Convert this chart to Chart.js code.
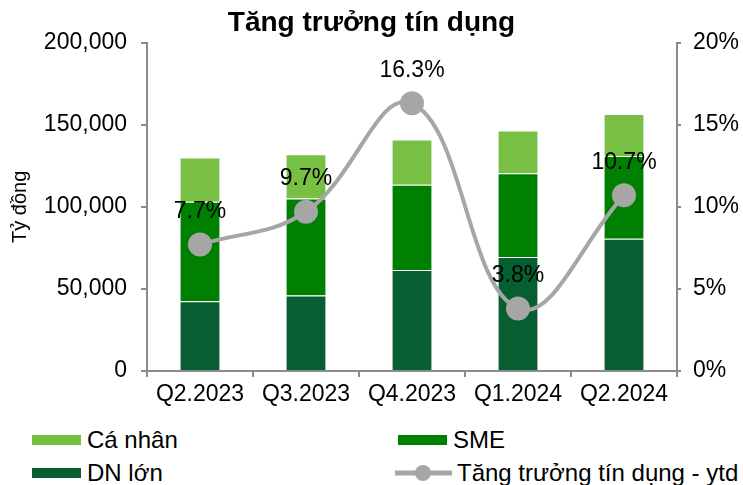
<!DOCTYPE html>
<html>
<head>
<meta charset="utf-8">
<script src="https://cdn.jsdelivr.net/npm/chart.js@4"></script>
<style>
  body { margin: 0; background: #fff; font-family: "Liberation Sans", Arial, sans-serif; }
  #wrap { position: relative; width: 743px; height: 485px; }
  #legend { position: absolute; left: 0; top: 420px; width: 743px; height: 65px; font-size: 24px; color: #000; }
  .item { position: absolute; display: flex; align-items: center; height: 28px; white-space: nowrap; }
  .box { width: 49px; height: 10px; margin-right: 6px; }
</style>
</head>
<body>
<div id="wrap">
  <canvas id="credit" width="743" height="420"></canvas>
  <div id="legend"></div>
</div>
<script>
const quarters = ["Q2.2023", "Q3.2023", "Q4.2023", "Q1.2024", "Q2.2024"];
const dnLon = [42500, 46000, 61500, 69500, 80500];
const sme = [60500, 59000, 52000, 51000, 50500];
const caNhan = [27000, 27000, 27500, 26000, 25500];
const growth = [7.7, 9.7, 16.3, 3.8, 10.7];

const axisGrey = "#8c8c8c";
const fontBase = { family: "'Liberation Sans', Arial, sans-serif", size: 23 };

// labels above the growth points
const pointLabels = {
    id: "pointLabels",
    afterDatasetsDraw(chart) {
        const ctx = chart.ctx;
        const meta = chart.getDatasetMeta(3);
        ctx.save();
        ctx.font = "23px 'Liberation Sans', Arial, sans-serif";
        ctx.fillStyle = "#000";
        ctx.textAlign = "center";
        ctx.textBaseline = "middle";
        meta.data.forEach((pt, i) => {
            ctx.fillText(growth[i].toFixed(1) + "%", pt.x, pt.y - 33);
        });
        ctx.restore();
    },
};

const data = {
    labels: quarters,
    datasets: [
        {
            type: "bar",
            label: "DN lớn",
            data: dnLon,
            backgroundColor: "#075e31",
            borderColor: "#ffffff",
            borderWidth: 1,
            yAxisID: "y",
            order: 1,
        },
        {
            type: "bar",
            label: "SME",
            data: sme,
            backgroundColor: "#008000",
            borderColor: "#ffffff",
            borderWidth: 1,
            yAxisID: "y",
            order: 1,
        },
        {
            type: "bar",
            label: "Cá nhân",
            data: caNhan,
            backgroundColor: "#77c043",
            borderColor: "#ffffff",
            borderWidth: 1,
            yAxisID: "y",
            order: 1,
        },
        {
            type: "line",
            label: "Tăng trưởng tín dụng - ytd",
            data: growth,
            borderColor: "#a6a6a6",
            backgroundColor: "#a6a6a6",
            borderWidth: 4,
            pointRadius: 10,
            pointHoverRadius: 10,
            tension: 0.4,
            yAxisID: "y1",
            order: 0,
        },
    ],
};

const config = {
    type: "bar",
    data,
    options: {
        responsive: false,
        animation: false,
        layout: { padding: 0 },
        datasets: { bar: { barPercentage: 0.77, categoryPercentage: 0.5 } },
        plugins: {
            legend: { display: false },
            tooltip: { enabled: false },
            title: {
                display: true,
                text: "Tăng trưởng tín dụng",
                color: "#000",
                font: { family: fontBase.family, size: 28, weight: "bold", lineHeight: 1.2 },
                padding: { top: 6, bottom: 3 },
            },
        },
        scales: {
            x: {
                stacked: true,
                grid: { display: true, drawOnChartArea: false, color: axisGrey, lineWidth: 2, tickLength: 6, offset: true },
                border: { color: axisGrey, width: 2 },
                ticks: { color: "#000", font: fontBase, padding: 4 },
                afterFit: (s) => { s.height = 49; },
            },
            y: {
                stacked: true,
                min: 0,
                max: 200000,
                ticks: {
                    stepSize: 50000,
                    color: "#000",
                    font: fontBase,
                    padding: 14,
                    callback: (v) => v.toLocaleString("en-US"),
                },
                grid: { drawOnChartArea: false, color: axisGrey, lineWidth: 2, tickLength: 6 },
                border: { color: axisGrey, width: 2 },
                title: { display: true, text: "Tỷ đồng", color: "#000", font: { family: fontBase.family, size: 20 }, padding: 8 },
                afterFit: (s) => { s.width = 147; },
            },
            y1: {
                position: "right",
                min: 0,
                max: 20,
                ticks: {
                    stepSize: 5,
                    color: "#000",
                    font: fontBase,
                    padding: 12,
                    callback: (v) => v + "%",
                },
                grid: { drawOnChartArea: false, color: axisGrey, lineWidth: 2, tickLength: 4 },
                border: { color: axisGrey, width: 2 },
                afterFit: (s) => { s.width = 66; },
            },
        },
    },
    plugins: [pointLabels],
};

const chartCredit = document.getElementById("credit");
const myChartCredit = new Chart(chartCredit, config);

// legend in two columns, same order as the reference
const legendItems = [
    { ds: 2, left: 32, top: 6 },
    { ds: 1, left: 398, top: 6 },
    { ds: 0, left: 32, top: 39 },
    { ds: 3, left: 395, top: 39 },
];
const legendEl = document.getElementById("legend");
legendItems.forEach((it) => {
    const ds = data.datasets[it.ds];
    const div = document.createElement("div");
    div.className = "item";
    div.style.left = it.left + "px";
    div.style.top = it.top + "px";
    let mark;
    if (ds.type === "line") {
        mark = '<svg width="57" height="18" style="margin-right:5px"><line x1="0" y1="9" x2="57" y2="9" stroke="' +
            ds.borderColor + '" stroke-width="5"/><circle cx="28" cy="9" r="8" fill="' + ds.backgroundColor + '"/></svg>';
    } else {
        mark = '<span class="box" style="background:' + ds.backgroundColor + '"></span>';
    }
    div.innerHTML = mark + "<span>" + ds.label + "</span>";
    legendEl.appendChild(div);
});
</script>
</body>
</html>
